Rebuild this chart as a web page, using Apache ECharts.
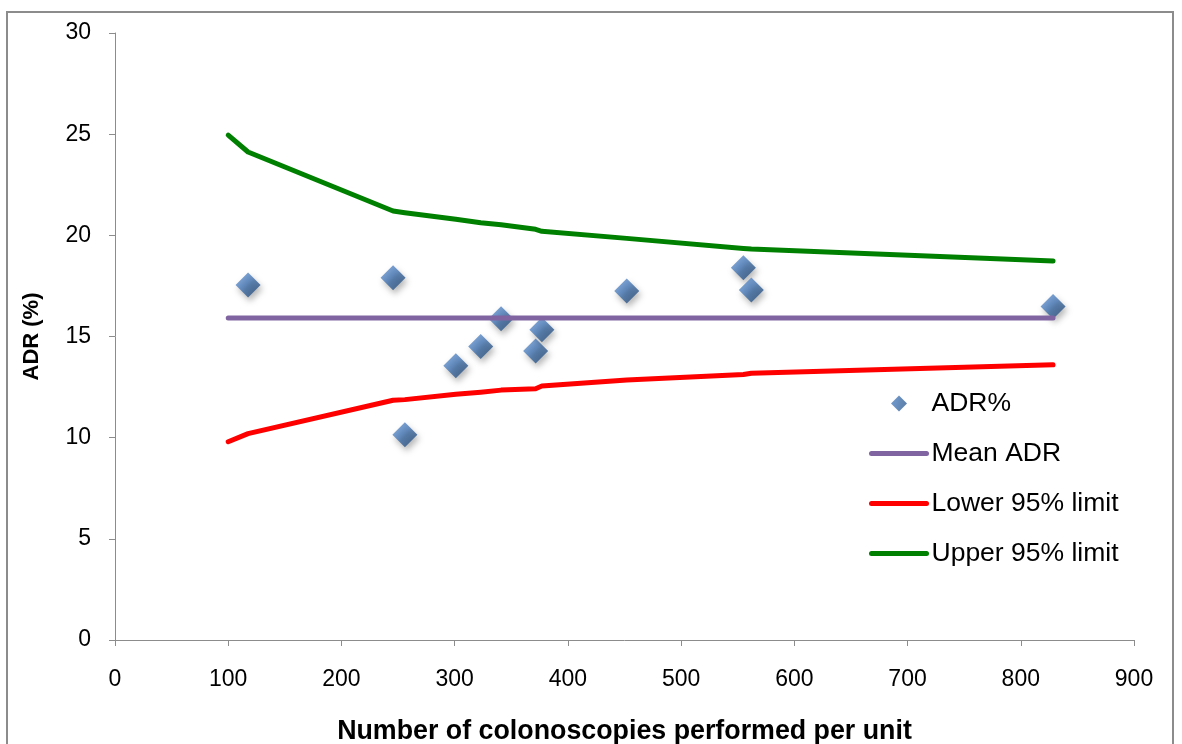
<!DOCTYPE html>
<html>
<head>
<meta charset="utf-8">
<script src="https://cdn.jsdelivr.net/npm/echarts@6/dist/echarts.min.js"></script>
<style>html,body{margin:0;padding:0;background:#fff;}#chart{width:1182px;height:744px;}</style>
</head>
<body>
<div id="chart"></div>
<script>
// ---- data ----
const unitVolumes = [117.5, 245.6, 256, 301, 323, 341, 371.5, 377, 452, 555, 562, 828.5];
const adrValues   = [17.55, 17.9, 10.15, 13.55, 14.5, 15.88, 14.28, 15.33, 17.25, 18.4, 17.3, 16.48];
const limitX      = [100, 117.5, 245.6, 256, 301, 323, 341, 371.5, 377, 452, 555, 562, 828.5];
const lowerLimit  = [9.8, 10.2, 11.85, 11.88, 12.15, 12.25, 12.35, 12.42, 12.55, 12.85, 13.12, 13.18, 13.6];
const upperLimit  = [24.95, 24.12, 21.2, 21.12, 20.8, 20.62, 20.52, 20.3, 20.2, 19.85, 19.35, 19.32, 18.73];
const meanADR     = 15.92;
const meanRange   = [100, 828.5];
const xTicks = { min: 0, max: 900, interval: 100 };
const yTicks = { min: 0, max: 30, interval: 5 };
const seriesNames = ['ADR%', 'Mean ADR', 'Lower 95% limit', 'Upper 95% limit'];

const zip = (xs, ys) => xs.map((x, i) => [x, ys[i]]);
const font = '"Liberation Sans", Arial, sans-serif';

const chart = echarts.init(document.getElementById('chart'), null, { renderer: 'canvas' });
const diamondFill = new echarts.graphic.LinearGradient(0, 0, 1, 1, [
  { offset: 0, color: '#6a9bd8' },
  { offset: 0.45, color: '#4576b4' },
  { offset: 0.55, color: '#3a689f' },
  { offset: 1, color: '#1d416d' }
]);
const hiddenSymbol = { opacity: 0 };
chart.setOption({
  backgroundColor: '#ffffff',
  animation: false,
  graphic: [{
    type: 'rect', silent: true, z: -10,
    shape: { x: 7, y: 12, width: 1166, height: 780 },
    style: { fill: 'none', stroke: '#8c8c8c', lineWidth: 2 }
  }],
  grid: { left: 115, top: 33, right: 48, bottom: 104, containLabel: false, outerBoundsMode: 'none' },
  legend: {
    orient: 'vertical',
    left: 869, top: 390, padding: 0,
    itemWidth: 55, itemHeight: 16, itemGap: 23,
    lineStyle: { width: 5, cap: 'round' },
    textStyle: { fontFamily: font, fontSize: 26.5, color: '#000', lineHeight: 27 },
    data: [
      { name: seriesNames[0], icon: 'path://M0,8 M55,8 M27.5,0 L35.5,8 L27.5,16 L19.5,8 Z' },
      { name: seriesNames[1], itemStyle: hiddenSymbol },
      { name: seriesNames[2], itemStyle: hiddenSymbol },
      { name: seriesNames[3], itemStyle: hiddenSymbol }
    ]
  },
  xAxis: {
    type: 'value', min: xTicks.min, max: xTicks.max, interval: xTicks.interval,
    name: 'Number of colonoscopies performed per unit',
    nameLocation: 'middle', nameGap: 78,
    nameTextStyle: { fontFamily: font, fontSize: 26.8, fontWeight: 'bold', color: '#000' },
    axisLine: { show: true, lineStyle: { color: '#8c8c8c', width: 1 } },
    axisTick: { show: true, inside: false, length: 6, lineStyle: { color: '#8c8c8c' } },
    axisLabel: { fontFamily: font, fontSize: 23, color: '#000', margin: 28 },
    splitLine: { show: false }
  },
  yAxis: {
    type: 'value', min: yTicks.min, max: yTicks.max, interval: yTicks.interval,
    name: 'ADR (%)',
    nameLocation: 'middle', nameGap: 72, nameRotate: 90,
    nameTextStyle: { fontFamily: font, fontSize: 22, fontWeight: 'bold', color: '#000' },
    axisLine: { show: true, lineStyle: { color: '#8c8c8c', width: 1 } },
    axisTick: { show: true, inside: false, length: 6, lineStyle: { color: '#8c8c8c' } },
    axisLabel: { fontFamily: font, fontSize: 23, color: '#000', margin: 24 },
    splitLine: { show: false }
  },
  series: [
    {
      name: seriesNames[0], type: 'scatter', z: 2,
      symbol: 'diamond', symbolSize: 25, symbolKeepAspect: true,
      itemStyle: {
        color: diamondFill,
        shadowBlur: 6, shadowOffsetX: 2, shadowOffsetY: 4, shadowColor: 'rgba(0,0,0,0.35)'
      },
      data: zip(unitVolumes, adrValues)
    },
    {
      name: seriesNames[1], type: 'line', z: 3, symbol: 'none',
      lineStyle: { color: '#8064a2', width: 5, cap: 'round', join: 'round' },
      itemStyle: { color: '#8064a2' },
      data: meanRange.map(x => [x, meanADR])
    },
    {
      name: seriesNames[2], type: 'line', z: 3, symbol: 'none',
      lineStyle: { color: '#ff0000', width: 5, cap: 'round', join: 'round' },
      itemStyle: { color: '#ff0000' },
      data: zip(limitX, lowerLimit)
    },
    {
      name: seriesNames[3], type: 'line', z: 3, symbol: 'none',
      lineStyle: { color: '#008000', width: 5, cap: 'round', join: 'round' },
      itemStyle: { color: '#008000' },
      data: zip(limitX, upperLimit)
    }
  ]
});
</script>
</body>
</html>
